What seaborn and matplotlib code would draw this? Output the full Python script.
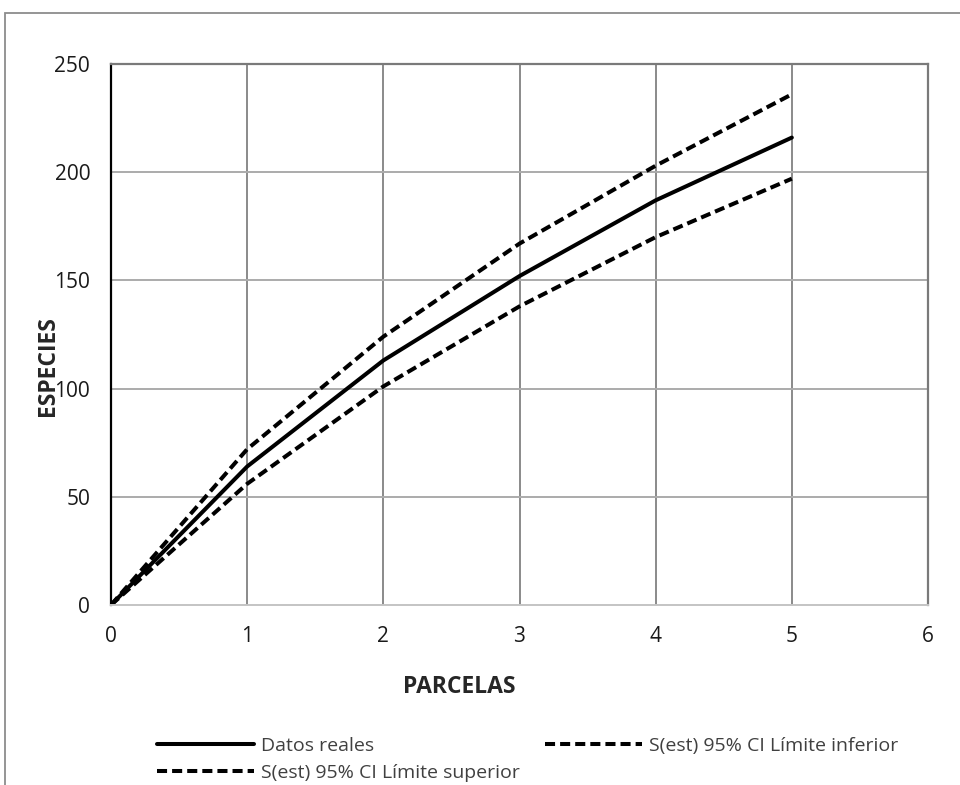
import matplotlib
matplotlib.use("Agg")
import matplotlib.pyplot as plt
import matplotlib.patches as mpatches
import pandas as pd
import seaborn as sns

parcelas = [0, 1, 2, 3, 4, 5]
datos_reales = [0, 64, 113, 152, 187, 216]
limite_inferior = [0, 56, 101, 138, 170, 197]
limite_superior = [0, 72, 124, 167, 203, 236]

x_ticks = [0, 1, 2, 3, 4, 5, 6]
y_ticks = [0, 50, 100, 150, 200, 250]

sns.set_theme(style="white")
plt.rcParams["font.family"] = ["Open Sans", "DejaVu Sans"]

df = pd.DataFrame({
    "PARCELAS": parcelas,
    "real": datos_reales,
    "inf": limite_inferior,
    "sup": limite_superior,
})

fig = plt.figure(figsize=(9.6, 7.85), dpi=100)
ax = fig.add_axes([111 / 960, 1 - 605 / 785, 817 / 960, 541 / 785])

# outer chart frame (cropped at right and bottom)
fig.patches.append(mpatches.Rectangle(
    (5 / 960, -0.1), 1.2, 1 - 13 / 785 + 0.1, transform=fig.transFigure,
    fill=False, edgecolor="#8c8c8c", linewidth=1.3))

dash = (2.5, 1.25)
sns.lineplot(data=df, x="PARCELAS", y="real", ax=ax, color="black",
             linewidth=2.9, label="Datos reales")
sns.lineplot(data=df, x="PARCELAS", y="sup", ax=ax, color="black",
             linewidth=2.9, label="S(est) 95% CI Límite superior")
sns.lineplot(data=df, x="PARCELAS", y="inf", ax=ax, color="black",
             linewidth=2.9, label="S(est) 95% CI Límite inferior")
for line in ax.get_lines()[1:]:
    line.set_dashes(dash)

ax.set_xlim(0, 6)
ax.set_ylim(0, 250)
ax.set_xticks(x_ticks)
ax.set_yticks(y_ticks)
ax.tick_params(length=0, pad=15, labelsize=15, colors="#1a1a1a")

for x in x_ticks[1:-1]:
    ax.axvline(x, color="#8a8a8a", linewidth=1.4, zorder=0)
for y in y_ticks[1:-1]:
    ax.axhline(y, color="#ababab", linewidth=1.4, zorder=0)

ax.spines["left"].set_color("black")
ax.spines["left"].set_linewidth(1.6)
ax.spines["bottom"].set_color("#c4c4c4")
ax.spines["bottom"].set_linewidth(1.4)
for side in ["top", "right"]:
    ax.spines[side].set_color("#7a7a7a")
    ax.spines[side].set_linewidth(1.6)

ax.set_xlabel("")
ax.set_ylabel("ESPECIES", fontsize=16.5, fontweight="bold")
ax.yaxis.set_label_coords(-0.062, 0.442)
fig.text(459 / 960, 1 - 687 / 785, "PARCELAS", fontsize=16.5,
         fontweight="bold", ha="center", va="center")

ax.legend(loc="upper left", bbox_to_anchor=(157 / 960, 1 - 737 / 785),
          bbox_transform=fig.transFigure, ncol=2, frameon=False,
          fontsize=14, handlelength=5.0, handletextpad=0.35,
          columnspacing=1.3, borderpad=0, borderaxespad=0,
          labelspacing=0.45, labelcolor="#404040")

fig.savefig("out.png", dpi=100)
